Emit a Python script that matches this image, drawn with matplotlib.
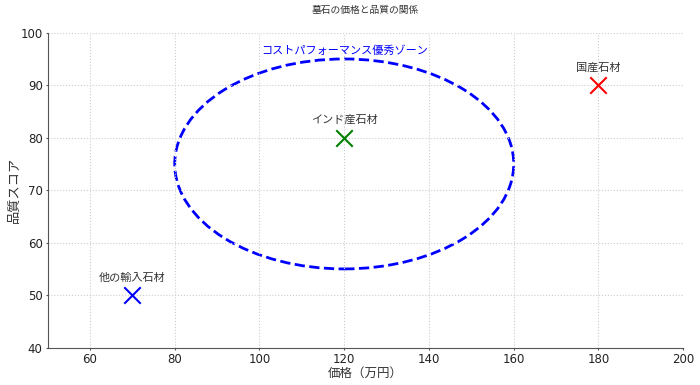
import matplotlib
matplotlib.use('Agg')
import matplotlib.pyplot as plt
from matplotlib.patches import Ellipse

plt.rcParams['font.family'] = ['Noto Sans CJK JP', 'DejaVu Sans']

names = ['インド産石材', '国産石材', '他の輸入石材']
price = [120, 180, 70]
quality = [80, 90, 50]
colors = ['green', 'red', 'blue']

zone_center = (120, 75)
zone_w, zone_h = 80, 40
zone_label = 'コストパフォーマンス優秀ゾーン'

fig, ax = plt.subplots(figsize=(7, 3.85), dpi=100)
fig.subplots_adjust(left=0.068, right=0.976, top=0.915, bottom=0.097)

for n, x, y, c in zip(names, price, quality, colors):
    ax.scatter(x, y, marker='x', s=140, color=c, linewidths=1.5, zorder=3)
    ax.annotate(n, (x, y), xytext=(0, 9), textcoords='offset points',
                ha='center', va='bottom', fontsize=8, color='#333333')

ell = Ellipse(zone_center, zone_w, zone_h, fill=False, edgecolor='blue',
              linestyle='--', linewidth=2)
ax.add_patch(ell)
ax.text(zone_center[0], zone_center[1] + zone_h / 2 + 0.6, zone_label,
        ha='center', va='bottom', fontsize=8, color='blue')

ax.set_xlim(50, 200)
ax.set_ylim(40, 100)
ax.set_title('墓石の価格と品質の関係', fontsize=7, color='#333333', pad=14)
ax.set_xlabel('価格（万円）', fontsize=9, color='#333333', va='center')
ax.set_ylabel('品質スコア', fontsize=9.5, color='#333333', va='center')
ax.xaxis.set_label_coords(0.5, -0.08)
ax.yaxis.set_label_coords(-0.052, 0.5)
ax.grid(True, linestyle=':', color='#cccccc', linewidth=0.8)
ax.spines['top'].set_visible(False)
ax.spines['right'].set_visible(False)
ax.spines['left'].set_color('#555555')
ax.spines['bottom'].set_color('#555555')
ax.tick_params(colors='#555555', labelcolor='#222222', labelsize=8.5,
               length=1.5, pad=2)
for lbl in ax.get_xticklabels() + ax.get_yticklabels():
    lbl.set_family('DejaVu Sans')

fig.savefig('out.png')
